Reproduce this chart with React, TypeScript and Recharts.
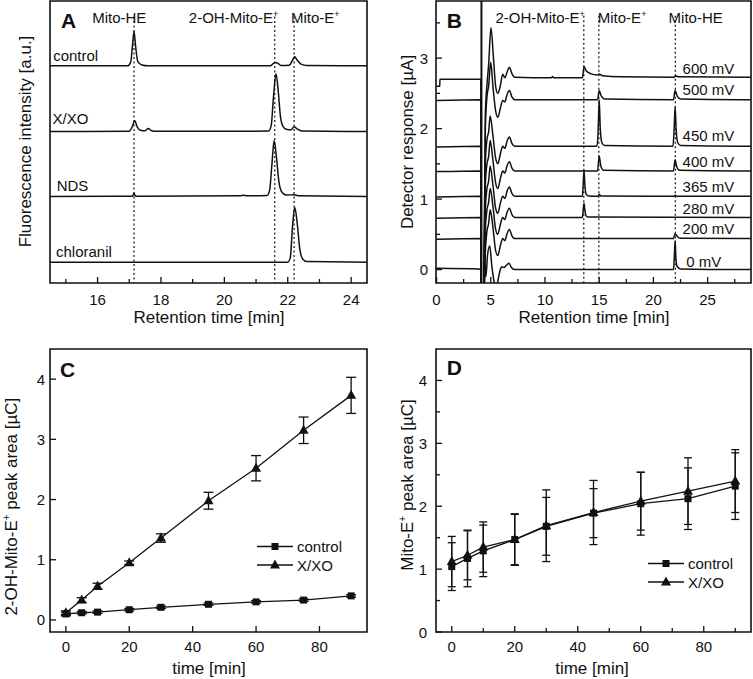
import React from 'react'
import { LineChart, Line, XAxis, YAxis, ReferenceArea, ReferenceLine, ReferenceDot, ErrorBar, Legend } from 'recharts'

const W = 753
const H = 679
const FONT = 'Arial, "Liberation Sans", Helvetica, sans-serif'
const INK = '#111'

type Pt = [number, number]

// ---------- panel A: fluorescence chromatograms (a.u.) ----------
const aControl: Pt[] = [
  [14.5, 77], [16.95, 77], [17.05, 78.5], [17.1, 84], [17.15, 89.2], [17.2, 84], [17.27, 78.5], [17.4, 77.3],
  [17.6, 77], [21.45, 77], [21.55, 77.9], [21.62, 78.2], [21.7, 77.8], [21.8, 77.1], [22.05, 77.2], [22.15, 79],
  [22.22, 80.2], [22.3, 79], [22.42, 77.6], [22.6, 77.1], [24.5, 77],
]
const aXxo: Pt[] = [
  [14.5, 53.7], [17.0, 53.8], [17.1, 55.6], [17.17, 57.6], [17.25, 55.4], [17.35, 54.2], [17.5, 54], [17.6, 54.8],
  [17.7, 54], [17.9, 53.8], [20.4, 53.8], [21.4, 53.9], [21.48, 56], [21.55, 66], [21.63, 74.2], [21.7, 68],
  [21.77, 59], [21.85, 55.5], [21.95, 54.5], [22.1, 54.3], [22.2, 55.4], [22.3, 54.6], [22.45, 53.9], [24.5, 53.7],
]
const aNds: Pt[] = [
  [14.5, 30.7], [17.1, 30.8], [17.15, 31.8], [17.2, 30.8], [20.5, 30.9], [20.6, 31.1], [20.7, 30.9], [21.35, 31],
  [21.43, 33], [21.5, 42], [21.57, 50.5], [21.64, 45], [21.72, 36], [21.8, 32.5], [21.95, 31.2], [22.2, 31.3],
  [22.35, 30.9], [24.5, 30.7],
]
const aChloranil: Pt[] = [
  [14.5, 7.4], [22.0, 7.4], [22.08, 9], [22.15, 20], [22.22, 26.9], [22.3, 21], [22.38, 12], [22.47, 8.5],
  [22.6, 7.6], [24.5, 7.4],
]
const aNames = ['control', 'X/XO', 'NDS', 'chloranil']
const aNamePos: Pt[] = [[14.6, 78.8], [14.58, 56.4], [14.71, 32.5], [14.69, 9.1]]
const aPeaks = [17.15, 21.59, 22.2]

// ---------- panel B: electrochemical chromatograms (µA) ----------
const b600: Pt[] = [
  [0, 2.6], [0.3, 2.6], [0.31, 2.7], [4.08, 2.7], [4.13, -0.5], [4.35, -0.5], [4.5, 2.2], [4.65, 2.62], [4.8, 2.9],
  [5.02, 3.43], [5.25, 3.0], [5.45, 2.6], [5.65, 2.5], [5.9, 2.62], [6.1, 2.77], [6.3, 2.72], [6.5, 2.8], [6.72, 2.87],
  [6.95, 2.78], [7.2, 2.73], [10.6, 2.72], [10.7, 2.74], [10.8, 2.72], [13.45, 2.72], [13.6, 2.88], [13.8, 2.82],
  [14.2, 2.78], [14.8, 2.76], [15.0, 2.775], [15.3, 2.75], [17, 2.735], [21.9, 2.73], [22.05, 2.75], [22.3, 2.735],
  [29, 2.73],
]
const b500: Pt[] = [
  [0, 2.4], [4.08, 2.41], [4.13, -0.5], [4.35, -0.5], [4.5, 2.0], [4.65, 2.45], [4.8, 2.6], [5.0, 2.94], [5.2, 2.6],
  [5.45, 2.25], [5.65, 2.16], [5.9, 2.3], [6.1, 2.4], [6.3, 2.38], [6.5, 2.48], [6.72, 2.54], [6.95, 2.45], [7.2, 2.41],
  [14.85, 2.41], [15.0, 2.54], [15.2, 2.46], [15.5, 2.42], [21.85, 2.41], [22.0, 2.54], [22.2, 2.46], [22.5, 2.42],
  [29, 2.41],
]
const b450: Pt[] = [
  [0, 1.74], [4.08, 1.75], [4.13, -0.5], [4.35, -0.5], [4.5, 1.5], [4.65, 1.85], [4.8, 1.95], [4.95, 2.18], [5.2, 1.9],
  [5.45, 1.58], [5.65, 1.5], [5.9, 1.65], [6.1, 1.75], [6.3, 1.72], [6.5, 1.82], [6.72, 1.88], [6.95, 1.79], [7.2, 1.75],
  [14.8, 1.75], [14.9, 1.95], [15.0, 2.41], [15.1, 2.0], [15.25, 1.8], [15.5, 1.76], [21.8, 1.75], [21.9, 1.95],
  [22.0, 2.31], [22.1, 1.98], [22.25, 1.8], [22.5, 1.76], [29, 1.75],
]
const b400: Pt[] = [
  [0, 1.39], [4.08, 1.4], [4.13, -0.5], [4.35, -0.5], [4.5, 1.2], [4.65, 1.5], [4.8, 1.6], [4.95, 1.83], [5.2, 1.55],
  [5.45, 1.23], [5.65, 1.15], [5.9, 1.3], [6.1, 1.4], [6.3, 1.37], [6.5, 1.47], [6.72, 1.53], [6.95, 1.44], [7.2, 1.4],
  [14.85, 1.4], [15.0, 1.61], [15.15, 1.47], [15.4, 1.41], [21.85, 1.4], [22.0, 1.56], [22.15, 1.46], [22.4, 1.41],
  [29, 1.4],
]
const b365: Pt[] = [
  [0, 1.03], [4.08, 1.04], [4.13, -0.5], [4.35, -0.5], [4.5, 0.85], [4.65, 1.15], [4.8, 1.25], [4.95, 1.47], [5.2, 1.2],
  [5.45, 0.87], [5.65, 0.8], [5.9, 0.95], [6.1, 1.04], [6.3, 1.01], [6.5, 1.11], [6.72, 1.17], [6.95, 1.08], [7.2, 1.04],
  [13.45, 1.04], [13.52, 1.2], [13.6, 1.41], [13.68, 1.2], [13.8, 1.07], [14.0, 1.045], [14.9, 1.04], [15.0, 1.07],
  [15.15, 1.045], [21.9, 1.04], [22.0, 1.055], [22.15, 1.04], [29, 1.04],
]
const b280: Pt[] = [
  [0, 0.73], [4.08, 0.74], [4.13, -0.5], [4.35, -0.5], [4.5, 0.55], [4.65, 0.85], [4.8, 0.95], [4.95, 1.15], [5.2, 0.9],
  [5.45, 0.57], [5.65, 0.5], [5.9, 0.65], [6.1, 0.74], [6.3, 0.71], [6.5, 0.81], [6.72, 0.87], [6.95, 0.78], [7.2, 0.74],
  [13.45, 0.74], [13.52, 0.84], [13.6, 0.94], [13.68, 0.84], [13.8, 0.76], [14.0, 0.745], [29, 0.74],
]
const b200: Pt[] = [
  [0, 0.43], [4.08, 0.44], [4.13, -0.5], [4.35, -0.5], [4.5, 0.25], [4.65, 0.55], [4.8, 0.65], [4.95, 0.85], [5.2, 0.6],
  [5.45, 0.27], [5.65, 0.2], [5.9, 0.35], [6.1, 0.44], [6.3, 0.41], [6.5, 0.51], [6.72, 0.57], [6.95, 0.48], [7.2, 0.44],
  [21.85, 0.44], [22.0, 0.51], [22.2, 0.47], [22.5, 0.445], [29, 0.44],
]
const b0: Pt[] = [
  [0, 0.02], [3.9, 0.01], [4.08, 0.0], [4.13, -0.5], [4.35, -0.5], [4.45, 0.1], [4.55, -0.1], [4.7, 0.2], [4.9, 0.34],
  [5.1, 0.05], [5.35, -0.2], [5.5, -0.25], [5.8, -0.05], [6.0, 0.04], [6.2, 0.03], [6.45, 0.06], [6.68, 0.09],
  [6.9, 0.03], [7.2, 0.0], [21.85, 0.0], [21.92, 0.15], [22.0, 0.41], [22.08, 0.15], [22.2, 0.04], [22.5, 0.01], [29, 0.0],
]
const bTraces = [b600, b500, b450, b400, b365, b280, b200, b0]
const bNames = ['600 mV', '500 mV', '450 mV', '400 mV', '365 mV', '280 mV', '200 mV', '0 mV']
const bNamePos: Pt[] = [
  [22.69, 2.77], [22.69, 2.47], [22.69, 1.83], [22.69, 1.46], [22.69, 1.1], [22.69, 0.79], [22.69, 0.51], [23.03, 0.04],
]
const bPeaks = [13.58, 14.97, 22.02]

// ---------- panels C and D: peak areas vs time (µC) ----------
const times = [0, 5, 10, 20, 30, 45, 60, 75, 90]
const cControl = [0.1, 0.12, 0.13, 0.17, 0.21, 0.26, 0.3, 0.33, 0.4]
const cControlErr = [0.03, 0.02, 0.02, 0.02, 0.02, 0.02, 0.02, 0.02, 0.02]
const cXxo = [0.12, 0.33, 0.56, 0.95, 1.36, 1.98, 2.52, 3.15, 3.73]
const cXxoErr = [0.03, 0.04, 0.05, 0.03, 0.07, 0.14, 0.21, 0.22, 0.3]
const dControl = [1.04, 1.17, 1.29, 1.47, 1.68, 1.89, 2.04, 2.12, 2.32]
const dControlErr = [0.38, 0.45, 0.41, 0.4, 0.46, 0.39, 0.5, 0.49, 0.53]
const dXxo = [1.12, 1.22, 1.35, 1.47, 1.69, 1.9, 2.08, 2.24, 2.4]
const dXxoErr = [0.4, 0.39, 0.4, 0.41, 0.57, 0.51, 0.46, 0.53, 0.5]
const seriesNames = ['control', 'X/XO']

// ---------- axes ----------
const aXDom = [14.5, 24.5], aYDom = [0, 100]
const bXDom = [-0.05, 29], bYDom = [-0.19, 3.81]
const cXDom = [-5, 95], cYDom = [-0.2, 4.5]
const dXDom = [-5, 95], dYDom = [0, 4.5]
const aXTicks = [15, 16, 17, 18, 19, 20, 21, 22, 23, 24]
const aXMajor = [16, 18, 20, 22, 24]
const bXTicks = [0, 2.5, 5, 7.5, 10, 12.5, 15, 17.5, 20, 22.5, 25, 27.5]
const bXMajor = [0, 5, 10, 15, 20, 25]
const bYTicks = [0, 0.5, 1, 1.5, 2, 2.5, 3, 3.5]
const bYMajor = [0, 1, 2, 3]
const cXTicks = [0, 20, 40, 60, 80]
const cYTicks = [0, 1, 2, 3, 4]
const dXTicks = [0, 10, 20, 30, 40, 50, 60, 70, 80, 90]
const dXMajor = [0, 20, 40, 60, 80]
const dYTicks = [0, 0.5, 1, 1.5, 2, 2.5, 3, 3.5, 4]
const dYMajor = [0, 1, 2, 3, 4]

const rows = (pts: Pt[]) => pts.map(([t, v]) => ({ t, v }))
const cRows = times.map((t, i) => ({ t, control: cControl[i], controlErr: cControlErr[i], xxo: cXxo[i], xxoErr: cXxoErr[i] }))
const dRows = times.map((t, i) => ({ t, control: dControl[i], controlErr: dControlErr[i], xxo: dXxo[i], xxoErr: dXxoErr[i] }))

// plot rect (left, top, right, bottom) -> chart margin, with 1px axes
const margin = (l: number, t: number, r: number, b: number) => ({ left: l - 1, top: t, right: W - r, bottom: H - b - 1 })

const isIn = (list: number[], v: number) => list.some((m) => Math.abs(m - v) < 1e-6)

const bottomTick = (majors: number[], dy: number) => (p: any) => {
  const major = isIn(majors, p.payload.value)
  return (
    <g>
      <line x1={p.x} x2={p.x} y1={p.y} y2={p.y - (major ? 6 : 4)} stroke={INK} strokeWidth={1.3} />
      {major && (
        <text x={p.x} y={p.y + dy} textAnchor="middle" fontSize={15} fontFamily={FONT} fill={INK}>
          {p.payload.value}
        </text>
      )}
    </g>
  )
}

const leftTick = (majors: number[], gap: number) => (p: any) => {
  const major = isIn(majors, p.payload.value)
  return (
    <g>
      <line x1={p.x} x2={p.x + (major ? 6 : 4)} y1={p.y} y2={p.y} stroke={INK} strokeWidth={1.3} />
      {major && (
        <text x={p.x - gap} y={p.y + 5.5} textAnchor="end" fontSize={15} fontFamily={FONT} fill={INK}>
          {p.payload.value}
        </text>
      )}
    </g>
  )
}

const tag = (text: string, sup = false, size = 15, bold = false) => (p: any) => (
  <text x={p.viewBox.x} y={p.viewBox.y} textAnchor="start" fontSize={size} fontWeight={bold ? 'bold' : 'normal'} fontFamily={FONT} fill={INK}>
    {text}
    {sup && <tspan dy={-6} fontSize={9}>+</tspan>}
  </text>
)

const frame = (xd: number[], yd: number[]) => (
  <ReferenceArea x1={xd[0]} x2={xd[1]} y1={yd[0]} y2={yd[1]} fill="none" fillOpacity={0} stroke={INK} strokeWidth={1.6} ifOverflow="visible" />
)

const dotted = (x: number, yTop: number, yBottom: number, key: string) => (
  <ReferenceLine key={key} segment={[{ x, y: yTop }, { x, y: yBottom }]} stroke={INK} strokeWidth={1.2} strokeDasharray="2 2.5" ifOverflow="visible" />
)

const textDot = (key: string, x: number, y: number, label: any) => (
  <ReferenceDot key={key} x={x} y={y} r={0} fill="none" stroke="none" label={label} ifOverflow="visible" />
)

const square = (p: any) => (
  <rect key={`sq${p.index}`} x={p.cx - 3.5} y={p.cy - 3.5} width={7} height={7} fill={INK} />
)
const triangle = (p: any) => (
  <polygon key={`tr${p.index}`} points={`${p.cx},${p.cy - 5.5} ${p.cx + 5},${p.cy + 3.5} ${p.cx - 5},${p.cy + 3.5}`} fill={INK} />
)

const legendBox = () => (
  <svg width={130} height={42}>
    {seriesNames.map((n, i) => {
      const y = 10.5 + i * 18.5
      return (
        <g key={n}>
          <line x1={2} x2={38} y1={y} y2={y} stroke={INK} strokeWidth={1.3} />
          {i === 0 ? (
            <rect x={16.5} y={y - 3.5} width={7} height={7} fill={INK} />
          ) : (
            <polygon points={`20,${y - 5.5} 25,${y + 3.5} 15,${y + 3.5}`} fill={INK} />
          )}
          <text x={42} y={y + 5.5} fontSize={15} fontFamily={FONT} fill={INK}>{n}</text>
        </g>
      )
    })}
  </svg>
)

const layer: React.CSSProperties = { position: 'absolute', left: 0, top: 0 }

function PanelA() {
  const traces = [aControl, aXxo, aNds, aChloranil]
  return (
    <div style={layer}>
      <LineChart width={W} height={H} margin={margin(50, 1, 367, 283)}>
        <XAxis type="number" dataKey="t" domain={aXDom} allowDataOverflow ticks={aXTicks} interval={0} height={1}
          tickSize={0} tickMargin={0} axisLine={false} tickLine={false} tick={bottomTick(aXMajor, 22)} />
        <YAxis type="number" dataKey="v" domain={aYDom} allowDataOverflow width={1} tick={false} axisLine={false} tickLine={false} />
        {frame(aXDom, aYDom)}
        {aPeaks.map((x, i) => dotted(x, 94.5, 0, `ap${i}`))}
        {traces.map((tr, i) => (
          <Line key={`a${i}`} data={rows(tr)} dataKey="v" type="monotone" stroke={INK} strokeWidth={1.5} dot={false} isAnimationActive={false} />
        ))}
        {aNames.map((n, i) => textDot(`an${i}`, aNamePos[i][0], aNamePos[i][1], tag(n)))}
        {textDot('aA', 14.85, 90.6, tag('A', false, 21, true))}
        {textDot('al1', 15.83, 92.2, tag('Mito-HE'))}
        {textDot('al2', 18.88, 92.2, tag('2-OH-Mito-E', true))}
        {textDot('al3', 22.1, 92.2, tag('Mito-E', true))}
      </LineChart>
    </div>
  )
}

function PanelB() {
  return (
    <div style={layer}>
      <LineChart width={W} height={H} margin={margin(436, 1, 751, 283)}>
        <XAxis type="number" dataKey="t" domain={bXDom} allowDataOverflow ticks={bXTicks} interval={0} height={1}
          tickSize={0} tickMargin={0} axisLine={false} tickLine={false} tick={bottomTick(bXMajor, 22)} />
        <YAxis type="number" dataKey="v" domain={bYDom} allowDataOverflow ticks={bYTicks} interval={0} width={1}
          tickSize={0} tickMargin={0} axisLine={false} tickLine={false} tick={leftTick(bYMajor, 8)} />
        {frame(bXDom, bYDom)}
        {bPeaks.map((x, i) => dotted(x, 3.6, bYDom[0], `bp${i}`))}
        <ReferenceLine x={4.14} stroke={INK} strokeWidth={2} />
        {bTraces.map((tr, i) => (
          <Line key={`b${i}`} data={rows(tr)} dataKey="v" type="monotone" stroke={INK} strokeWidth={1.5} dot={false} isAnimationActive={false} />
        ))}
        {bNames.map((n, i) => textDot(`bn${i}`, bNamePos[i][0], bNamePos[i][1], tag(n)))}
        {textDot('bB', 0.94, 3.43, tag('B', false, 21, true))}
        {textDot('bl1', 5.43, 3.5, tag('2-OH-Mito-E', true))}
        {textDot('bl2', 14.87, 3.5, tag('Mito-E', true))}
        {textDot('bl3', 21.4, 3.5, tag('Mito-HE'))}
      </LineChart>
    </div>
  )
}

function PanelTime({ data, xd, yd, rect, xTicks, xMajor, yTicks, yMajor, gap, letter, letterPos, legendPos, capW }: any) {
  return (
    <div style={layer}>
      <LineChart width={W} height={H} data={data} margin={margin(rect[0], rect[1], rect[2], rect[3])}>
        <XAxis type="number" dataKey="t" domain={xd} allowDataOverflow ticks={xTicks} interval={0} height={1}
          tickSize={0} tickMargin={0} axisLine={false} tickLine={false} tick={bottomTick(xMajor, 20)} />
        <YAxis type="number" domain={yd} allowDataOverflow ticks={yTicks} interval={0} width={1}
          tickSize={0} tickMargin={0} axisLine={false} tickLine={false} tick={leftTick(yMajor, gap)} />
        {frame(xd, yd)}
        <Line dataKey="control" name="control" type="linear" stroke={INK} strokeWidth={1.3} dot={square} isAnimationActive={false}>
          <ErrorBar dataKey="controlErr" direction="y" width={capW} stroke={INK} strokeWidth={1.3} />
        </Line>
        <Line dataKey="xxo" name="X/XO" type="linear" stroke={INK} strokeWidth={1.3} dot={triangle} isAnimationActive={false}>
          <ErrorBar dataKey="xxoErr" direction="y" width={capW} stroke={INK} strokeWidth={1.3} />
        </Line>
        {textDot('let', letterPos[0], letterPos[1], tag(letter, false, 21, true))}
        <Legend layout="horizontal" verticalAlign="middle" align="center" content={legendBox}
          wrapperStyle={{ left: legendPos[0], top: legendPos[1], width: 130, height: 42 }} />
      </LineChart>
    </div>
  )
}

function Titles() {
  const t = { fontFamily: FONT, fontSize: 17, fill: INK, textAnchor: 'middle' as const }
  return (
    <svg width={W} height={H} style={{ ...layer, pointerEvents: 'none' }}>
      <text x={209} y={323} {...t}>Retention time [min]</text>
      <text x={594} y={323} {...t}>Retention time [min]</text>
      <text x={209} y={674} {...t}>time [min]</text>
      <text x={592} y={674} {...t}>time [min]</text>
      <text transform="translate(31,141.5) rotate(-90)" {...t}>Fluorescence intensity [a.u.]</text>
      <text transform="translate(413,142) rotate(-90)" {...t}>Detector response [µA]</text>
      <text transform="translate(17,506.7) rotate(-90)" {...t}>
        2-OH-Mito-E<tspan dy={-7} fontSize={10}>+</tspan><tspan dy={7}> peak area [µC]</tspan>
      </text>
      <text transform="translate(413,485) rotate(-90)" {...t}>
        Mito-E<tspan dy={-7} fontSize={10}>+</tspan><tspan dy={7}> peak area [µC]</tspan>
      </text>
    </svg>
  )
}

export default function App() {
  return (
    <div style={{ position: 'absolute', left: 0, top: 0, width: W, height: H, background: '#fff', fontFamily: FONT }}>
      <PanelA />
      <PanelB />
      <PanelTime data={cRows} xd={cXDom} yd={cYDom} rect={[50, 349, 367, 632]} xTicks={cXTicks} xMajor={cXTicks}
        yTicks={cYTicks} yMajor={cYTicks} gap={5} letter="C" letterPos={[-1.84, 4.04]} legendPos={[255, 536]} capW={5} />
      <PanelTime data={dRows} xd={dXDom} yd={dYDom} rect={[436, 349, 751, 632]} xTicks={dXTicks} xMajor={dXMajor}
        yTicks={dYTicks} yMajor={dYMajor} gap={9} letter="D" letterPos={[-1.6, 4.08]} legendPos={[646, 553]} capW={4} />
      <Titles />
    </div>
  )
}
